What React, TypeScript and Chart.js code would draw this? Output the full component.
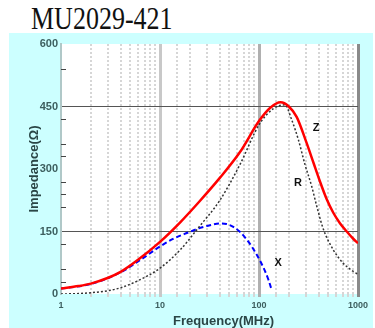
import React, { useEffect, useRef } from 'react';
import { Chart, registerables } from 'chart.js';

Chart.register(...registerables);

const TITLE = 'MU2029-421';
const X_TITLE = 'Frequency(MHz)';
const Y_TITLE = 'Impedance(Ω)';

// Z curve (MHz, Ohm)
const zFreq = [1, 1.5, 2, 3, 4, 6, 10, 16, 25, 40, 64, 100, 130, 165, 200, 240, 300, 355, 413, 482, 563, 657, 770, 900, 1000];
const zVals = [13, 19, 25, 39, 53, 82, 125, 172, 222, 278, 340, 415, 447, 460, 450, 425, 365, 315, 270, 228, 195, 170, 150, 132, 122];

// R curve
const rFreq = [1, 1.5, 2, 3, 4, 6, 10, 16, 25, 40, 64, 100, 140, 183, 214, 250, 292, 341, 382, 446, 563, 708, 850, 1000];
const rVals = [0, 1, 3, 8, 15, 32, 62, 106, 162, 224, 310, 406, 445, 454, 418, 370, 310, 258, 212, 156, 106, 74, 58, 47];

// X curve
const xFreq = [1, 2, 4, 6, 10, 14, 19, 25, 32, 40, 47, 55, 65, 75, 85, 95, 105, 115, 125, 135];
const xVals = [13, 24, 52, 78, 114, 134, 147, 158, 165, 169, 168, 161, 148, 131, 113, 94, 75, 55, 33, 8];

const yLabelStep = 150;
const yMinorTicks = [30, 60, 120, 210, 240, 270, 330, 360, 420, 540];
const curveNames = ['Z', 'R', 'X'];
const curveLabelFreq = [377, 248, 156];
const curveLabelVal = [398, 266, 74];

const FAMILY = '"Liberation Sans", Arial, sans-serif';

const isDecade = (v: number) => Math.abs(Math.log10(v) - Math.round(Math.log10(v))) < 1e-6;

const decor = {
  id: 'decor',
  beforeDraw(chart: any) {
    const { ctx, chartArea: a, width, height } = chart;
    ctx.save();
    ctx.fillStyle = '#ccffff';
    ctx.fillRect(0, 0, width, height);
    ctx.fillStyle = '#ffffff';
    ctx.fillRect(a.left, a.top, a.right - a.left, a.bottom - a.top);
    ctx.restore();
  },
  afterDraw(chart: any) {
    const { ctx, chartArea: a } = chart;
    const xs = chart.scales.x;
    const ys = chart.scales.y;
    ctx.save();
    ctx.strokeStyle = '#444444';
    ctx.lineWidth = 1;
    ctx.beginPath();
    for (const v of yMinorTicks) {
      const py = Math.round(ys.getPixelForValue(v)) + 0.5;
      ctx.moveTo(a.left, py);
      ctx.lineTo(a.left + 5, py);
    }
    ctx.stroke();

    ctx.font = 'bold 13px ' + FAMILY;
    ctx.fillStyle = '#2a4646';
    ctx.textAlign = 'center';
    ctx.textBaseline = 'middle';
    ctx.fillText(X_TITLE, (a.left + a.right) / 2 + 14, a.bottom + 27);

    ctx.font = 'bold 11px ' + FAMILY;
    ctx.fillStyle = '#111111';
    curveNames.forEach((n, i) => {
      ctx.fillText(n, xs.getPixelForValue(curveLabelFreq[i]), ys.getPixelForValue(curveLabelVal[i]));
    });
    ctx.restore();
  },
};

export default function App() {
  const ref = useRef<HTMLCanvasElement | null>(null);

  useEffect(() => {
    if (!ref.current) return;
    const toPts = (fs: number[], vs: number[]) => fs.map((f, i) => ({ x: f, y: vs[i] }));
    const line = { pointRadius: 0, cubicInterpolationMode: 'monotone' };
    const chart = new Chart(ref.current, {
      type: 'line',
      data: {
        datasets: [
          { ...line, label: 'Z', data: toPts(zFreq, zVals), borderColor: '#ff0000', borderWidth: 2.5 },
          { ...line, label: 'R', data: toPts(rFreq, rVals), borderColor: '#333333', borderWidth: 1.5, borderDash: [2, 2] },
          { ...line, label: 'X', data: toPts(xFreq, xVals), borderColor: '#0000ff', borderWidth: 2, borderDash: [5, 3] },
        ],
      },
      options: {
        animation: false,
        responsive: false,
        layout: { padding: { left: 0, top: 11, right: 15, bottom: 0 } },
        plugins: { legend: { display: false }, tooltip: { enabled: false } },
        scales: {
          x: {
            type: 'logarithmic',
            min: 1,
            max: 1000,
            afterFit: (s: any) => { s.height = 34; },
            ticks: {
              autoSkip: false,
              maxRotation: 0,
              padding: 3,
              font: { family: FAMILY, size: 9, weight: 'bold' },
              color: '#3d5f5f',
              callback: (v: any) => (isDecade(Number(v)) ? String(Number(v)) : ''),
            },
            grid: {
              tickLength: 3,
              color: (c: any) => {
                const v = c.tick ? c.tick.value : 0;
                if (Math.abs(v - 1) < 1e-9) return 'rgba(0,0,0,0)';
                if (Math.abs(v - 1000) < 1e-6) return '#8a8a8a';
                if (Math.abs(v - 100) < 1e-6) return '#b0b0b0';
                if (Math.abs(v - 10) < 1e-6) return '#c8c8c8';
                return '#d6d6d6';
              },
              lineWidth: (c: any) => (c.tick && isDecade(c.tick.value) ? 3 : 2),
            },
            border: {
              display: false,
              dash: (c: any) => (c.tick && isDecade(c.tick.value) ? [] : [2, 2]),
            },
          },
          y: {
            min: 0,
            max: 600,
            afterFit: (s: any) => { s.width = 52; },
            ticks: {
              stepSize: 30,
              autoSkip: false,
              padding: 3,
              font: { family: FAMILY, size: 11, weight: 'bold' },
              color: '#3d5f5f',
              callback: (v: any) => (Number(v) % yLabelStep === 0 ? String(v) : ''),
            },
            grid: {
              drawTicks: false,
              lineWidth: 1,
              color: (c: any) => {
                const v = c.tick ? c.tick.value : -1;
                return v === 150 || v === 450 ? '#555555' : 'rgba(0,0,0,0)';
              },
            },
            border: { color: '#b0c8c8', width: 2 },
            title: {
              display: true,
              text: Y_TITLE,
              font: { family: FAMILY, size: 13, weight: 'bold' },
              color: '#2a4646',
              padding: { top: 18, bottom: 0 },
            },
          },
        },
      },
      plugins: [decor],
    } as any);
    return () => chart.destroy();
  }, []);

  return (
    <div style={{ position: 'fixed', left: 0, top: 0, width: 375, height: 328, background: '#ffffff', overflow: 'hidden' }}>
      <div
        style={{
          position: 'absolute',
          left: 31,
          top: 4,
          fontFamily: '"Liberation Serif", "Times New Roman", serif',
          fontSize: 26,
          lineHeight: '26px',
          color: '#111111',
          whiteSpace: 'nowrap',
          transform: 'scaleY(1.2)',
          transformOrigin: 'left top',
        }}
      >
        {TITLE}
      </div>
      <canvas ref={ref} width={364} height={295} style={{ position: 'absolute', left: 9, top: 33, display: 'block' }} />
    </div>
  );
}
